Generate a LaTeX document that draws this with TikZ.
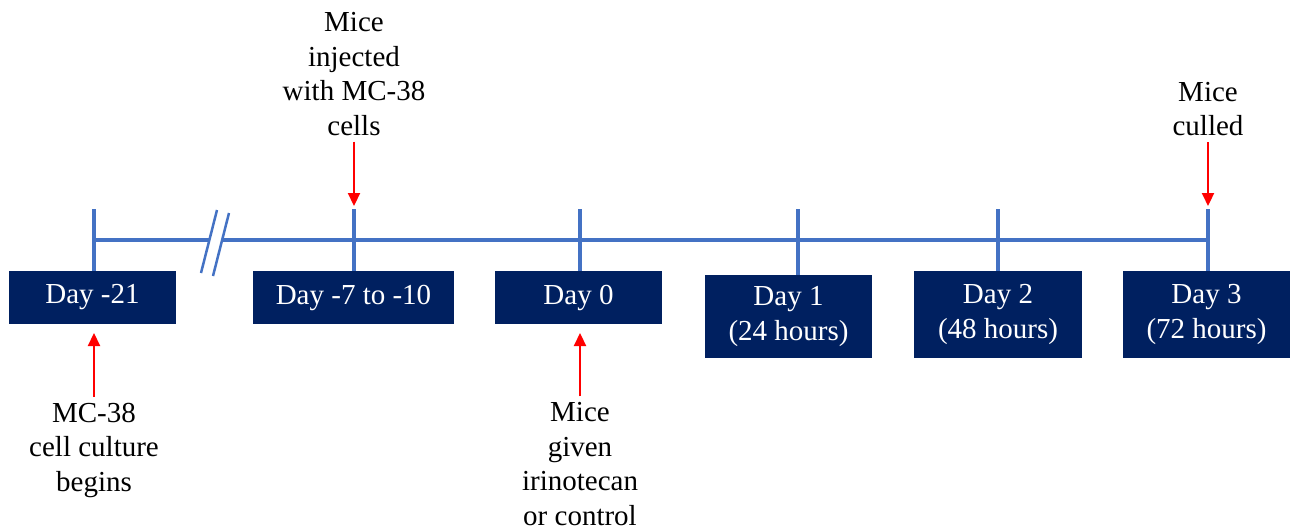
\documentclass[tikz,border=0pt]{standalone}
\usepackage{fontspec}
\setmainfont{Liberation Serif}
\usetikzlibrary{arrows.meta}
\definecolor{navy}{HTML}{002060}
\definecolor{tblue}{HTML}{4472C4}
\begin{document}
\begin{tikzpicture}[x=1pt,y=-1pt,
  daybox/.style={fill=navy, text=white, inner sep=0pt, align=center,
    font=\fontsize{29}{35}\selectfont},
  lab/.style={text=black, inner sep=0pt, align=center,
    font=\fontsize{29}{34.5}\selectfont},
  tline/.style={tblue, line width=4pt},
  redarrow/.style={red, line width=2.2pt, -{Triangle[width=12pt,length=13pt]}}]
\useasboundingbox (0,0) rectangle (1290,530);
% boxes
\node[daybox, minimum width=167pt, minimum height=53pt] (b1) at (92.5,297.5) {Day -21};
\node[daybox, minimum width=201pt, minimum height=53pt] (b2) at (353.5,297.5) {Day -7 to -10};
\node[daybox, minimum width=167pt, minimum height=53pt] (b3) at (578.5,297.5) {Day 0};
\node[daybox, minimum width=167pt, minimum height=83pt] (b4) at (788.5,316.5) {Day 1\\(24 hours)};
\node[daybox, minimum width=168pt, minimum height=87pt] (b5) at (998,314.5) {Day 2\\(48 hours)};
\node[daybox, minimum width=167pt, minimum height=87pt] (b6) at (1206.5,314.5) {Day 3\\(72 hours)};
% tick tops
\coordinate (t1) at (94,209);
\coordinate (t2) at (354,209);
\coordinate (t3) at (580,209);
\coordinate (t4) at (798,209);
\coordinate (t5) at (998,209);
\coordinate (t6) at (1208,209);
\coordinate (l1) at (94,240);
\coordinate (l6) at (1208,240);
% timeline
\draw[tline] (l1) -- (l6);
\foreach \i in {1,...,6}{\draw[tline] (t\i) -- (t\i |- b\i.north);}
% break mark
\coordinate (k1) at (217,210);
\coordinate (k2) at (201,273);
\coordinate (k3) at (213,276);
\coordinate (k4) at (229,213);
\fill[white] (k1) -- (k2) -- (k3) -- (k4) -- cycle;
\draw[tblue, line width=2.5pt] (k1) -- (k2);
\draw[tblue, line width=2.5pt] (k4) -- (k3);
% labels
\node[lab] (inj) at (354,74) {Mice\\injected\\with MC-38\\cells};
\node[lab] (cul) at (1208,109) {Mice\\culled};
\node[lab] (beg) at (94,450) {MC-38\\cell culture\\begins};
\node[lab] (giv) at (580,464) {Mice\\given\\irinotecan\\or control};
% arrows
\coordinate (a2) at (354,206);
\coordinate (a6) at (1208,206);
\coordinate (a1) at (94,333);
\coordinate (a3) at (580,333);
\draw[redarrow, shorten <=6pt] (inj) -- (a2);
\draw[redarrow, shorten <=6pt] (cul) -- (a6);
\draw[redarrow, shorten <=6pt] (beg) -- (a1);
\draw[redarrow, shorten <=6pt] (giv) -- (a3);
\end{tikzpicture}
\end{document}
